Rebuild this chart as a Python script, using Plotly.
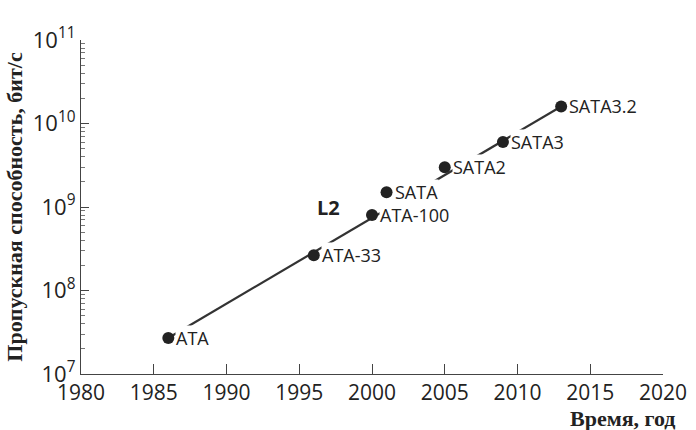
import math
import plotly.graph_objects as go

# Interface generations: introduction year and throughput (bit/s)
interfaces = ["ATA", "ATA-33", "ATA-100", "SATA", "SATA2", "SATA3", "SATA3.2"]
years = [1986, 1996, 2000, 2001, 2005, 2009, 2013]
throughput = [2.7e7, 2.64e8, 8.0e8, 1.5e9, 3.0e9, 6.0e9, 1.6e10]

x_ticks = [1980, 1985, 1990, 1995, 2000, 2005, 2010, 2015, 2020]
y_exponents = [7, 8, 9, 10, 11]

INK = "#222222"
SANS = "Open Sans, Noto Sans, sans-serif"
SERIF = "Liberation Serif, Times New Roman, serif"

y_tickvals = [10.0 ** e for e in y_exponents]
y_ticktext = [f"10<sup>{e}</sup>" for e in y_exponents]
y_minor = [k * 10.0 ** e for e in y_exponents[:-1] for k in range(2, 10)]

fig = go.Figure()

# Trend line through the first and last generations
fig.add_trace(go.Scatter(
    x=[years[0], years[-1]], y=[throughput[0], throughput[-1]],
    mode="lines", line=dict(color="#333333", width=2.2),
    hoverinfo="skip", showlegend=False,
))

# Generation markers
fig.add_trace(go.Scatter(
    x=years, y=throughput, mode="markers",
    marker=dict(size=12, color=INK),
    showlegend=False,
))

# Generation labels with white backing so the line breaks behind them
for name, yr, val in zip(interfaces, years, throughput):
    fig.add_annotation(
        x=yr, y=math.log10(val), yref="y", xref="x",
        text=name, showarrow=False,
        xanchor="left", yanchor="middle", xshift=7,
        font=dict(family=SANS, size=18, color=INK),
        bgcolor="white", borderpad=0,
    )

# Line identifier
fig.add_annotation(
    x=1997.0, y=9.0, xref="x", yref="y",
    text="<b>L2</b>", showarrow=False,
    font=dict(family=SANS, size=20, color=INK),
)

# Horizontal axis caption
fig.add_annotation(
    x=1.0, y=0, xref="paper", yref="paper",
    xanchor="right", yanchor="top", yshift=-30, xshift=15,
    text="<b>Время, год</b>", showarrow=False,
    font=dict(family=SERIF, size=22, color=INK),
)

fig.update_xaxes(
    range=[1980, 2020], tickvals=x_ticks, automargin=False,
    showline=True, linecolor="#444444", linewidth=1.2,
    ticks="inside", ticklen=10, tickcolor="#444444",
    showgrid=False, zeroline=False,
    tickfont=dict(family=SANS, size=21, color=INK),
)

fig.update_yaxes(
    type="log", range=[7, 11], automargin=False,
    tickvals=y_tickvals, ticktext=y_ticktext,
    showline=True, linecolor="#444444", linewidth=1.2,
    ticks="inside", ticklen=8, tickcolor="#444444",
    minor=dict(tickvals=y_minor, ticks="inside", ticklen=4,
               tickcolor="#777777", showgrid=False),
    showgrid=False, zeroline=False,
    tickfont=dict(family=SANS, size=22, color=INK),
    title=dict(text="<b>Пропускная способность, бит/с</b>",
               font=dict(family=SERIF, size=22, color=INK), standoff=4),
)

fig.update_layout(
    width=696, height=430,
    margin=dict(l=81, r=33, t=40, b=56),
    paper_bgcolor="white", plot_bgcolor="white",
)

fig.write_html("out.html")
